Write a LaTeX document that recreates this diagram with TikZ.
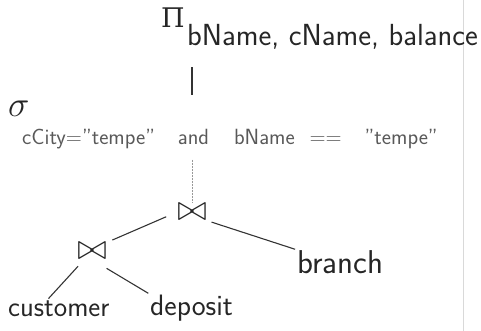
\RequirePackage{fix-cm}
\documentclass[tikz,border=0pt]{standalone}
\usepackage{fontspec}
\usepackage{amssymb}
\newfontfamily\greekglyph{DejaVu Serif}
\begin{document}
\begin{tikzpicture}[
  x=1pt, y=-1pt,
  every node/.style = {inner sep=0pt, text=black!85},
  opsym/.style = {font=\fontsize{36}{36}\selectfont},
  relname/.style = {anchor=base west, font=\sffamily\fontsize{#1}{#1}\selectfont},
  treeline/.style = {line width=1.1pt, draw=black!80},
  faintline/.style = {line width=0.7pt, draw=black!40, dash pattern=on 2pt off 1pt}
]
  \useasboundingbox (0,0) rectangle (481,331);
  % edge of the scanned page
  \draw[black!15, line width=0.6pt] (463,0) -- (463,331);

  \node[anchor=base west, font=\greekglyph\fontsize{27}{27}\selectfont] (pi) at (161,28) {Π};
  \node[relname=30.5] (projattr) at (187,46) {bName, cName, balance};
  \node[anchor=base west, font=\fontsize{36}{36}\selectfont] (sigma) at (8,117) {$\sigma$};
  \node[relname=22, text=black!65] (cond) at (22,145)
    {cCity="tempe"\hspace{16pt} and\hspace{18pt} bName\hspace{8pt} ==\hspace{16pt} "tempe"};
  \node[opsym] (jointop) at (192,212) {$\bowtie$};
  \node[opsym] (joinleft) at (92,251) {$\bowtie$};
  \node[relname=33] (branch) at (297,273) {branch};
  \node[relname=28.5] (customer) at (8,316) {customer};
  \node[relname=29.5] (deposit) at (150,315) {deposit};

  \draw[treeline, line width=1.6pt, shorten <=17pt, shorten >=35pt]
    (projattr.south -| jointop) -- (cond.north -| jointop);
  \draw[faintline, shorten <=10pt] (cond.south -| jointop) -- (jointop.north);
  \draw[treeline, shorten <=12pt, shorten >=6pt] (jointop.west) -- (joinleft.north east);
  \draw[treeline, shorten <=5pt, shorten >=2pt] (jointop.south east) -- (branch.north west);
  \draw[treeline, shorten <=9pt, shorten >=2pt] (joinleft) -- (customer.145);
  \draw[treeline, shorten <=17pt, shorten >=2pt] (joinleft.south) -- (deposit.north west);
\end{tikzpicture}
\end{document}
